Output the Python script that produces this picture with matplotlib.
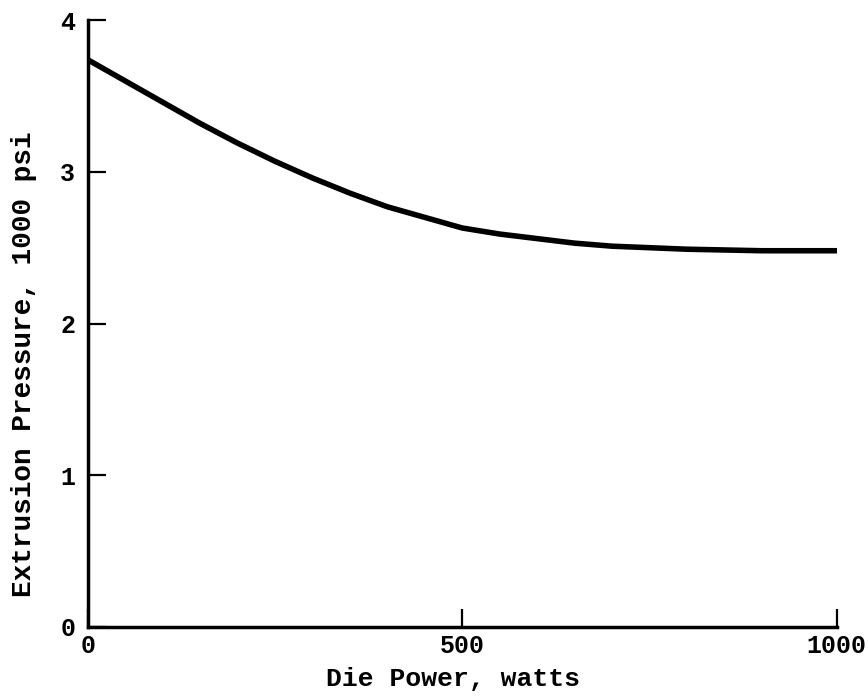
import matplotlib
matplotlib.use("Agg")
import matplotlib.pyplot as plt

# values
die_power = [0, 25, 50, 100, 150, 200, 250, 300, 350, 400, 450, 500,
             550, 600, 650, 700, 750, 800, 900, 1000]
pressure = [3.74, 3.67, 3.60, 3.46, 3.32, 3.19, 3.07, 2.96, 2.86, 2.77, 2.70, 2.63,
            2.59, 2.56, 2.53, 2.51, 2.50, 2.49, 2.48, 2.48]

xticks = [0, 500, 1000]
yticks = [0, 1, 2, 3, 4]

plt.rcParams['font.family'] = ['Liberation Mono', 'DejaVu Sans Mono']
plt.rcParams['font.weight'] = 'bold'

fig = plt.figure(figsize=(8.68, 6.98), dpi=100)
ax = fig.add_axes([0.101, 0.102, 0.863, 0.869])

ax.plot(die_power, pressure, color='black', lw=4, solid_capstyle='round',
        solid_joinstyle='round')

ax.set_xlim(0, 1000)
ax.set_ylim(0, 4)
ax.set_xticks(xticks)
ax.set_yticks(yticks)
ax.set_xticklabels([str(t) for t in xticks])
ax.set_yticklabels([str(t) for t in yticks])

for s in ['top', 'right']:
    ax.spines[s].set_visible(False)
for s in ['left', 'bottom']:
    ax.spines[s].set_linewidth(2.5)

ax.tick_params(direction='in', length=13, width=1.6, labelsize=18)
ax.tick_params(axis='y', pad=9)
ax.tick_params(axis='x', pad=5)

ax.set_xlabel('Die Power, watts', fontsize=19, labelpad=7, fontweight='bold', x=0.488)
ax.set_ylabel('Extrusion Pressure, 1000 psi', fontsize=20, labelpad=17,
              fontweight='bold', y=0.433)

fig.savefig('out.png', dpi=100)
